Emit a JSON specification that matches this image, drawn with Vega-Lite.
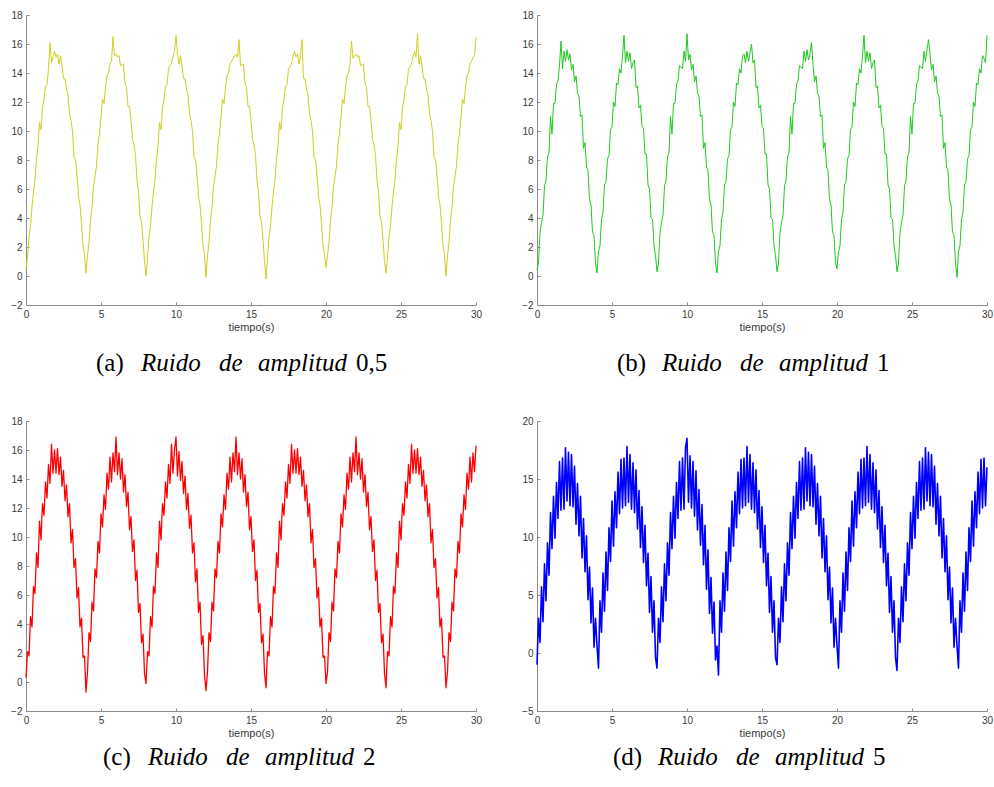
{
"$schema":"https://vega.github.io/schema/vega-lite/v6.json",
"padding":{"left":10,"top":10,"right":0,"bottom":0},
"config":{"view":{"stroke":null},"axis":{"grid":false,"domainColor":"#8c8c8c","tickColor":"#8c8c8c","tickSize":-3,"labelPadding":7,"labelFont":"Liberation Sans","labelFontSize":10,"labelColor":"#3a3a3a","titleFont":"Liberation Sans","titleFontSize":11,"titleFontWeight":"normal","titleColor":"#3a3a3a","titlePadding":2,"labelFlush":false}},
"datasets":{"s":[
{"t":0,"a":0.5,"b":0.4,"c":0.3,"d":-1.0},{"t":0.1,"a":1.3,"b":0.9,"c":2.1,"d":3.0},{"t":0.2,"a":2.7,"b":3.0,"c":1.8,"d":0.9},{"t":0.3,"a":3.4,"b":3.7,"c":4.5,"d":5.7},{"t":0.4,"a":4.8,"b":4.2,"c":3.8,"d":2.7},{"t":0.5,"a":5.8,"b":6.2,"c":6.6,"d":7.7},{"t":0.6,"a":6.6,"b":6.6,"c":6.1,"d":4.5},{"t":0.7,"a":8.1,"b":8.2,"c":8.9,"d":9.5},{"t":0.8,"a":8.9,"b":8.5,"c":7.9,"d":6.7},{"t":0.9,"a":10.6,"b":11.0,"c":11.1,"d":12.1},
{"t":1.0,"a":10.1,"b":9.8,"c":9.8,"d":9.0},{"t":1.1,"a":11.6,"b":11.9,"c":12.3,"d":13.5},{"t":1.2,"a":12.2,"b":11.9,"c":11.5,"d":9.9},{"t":1.3,"a":13.1,"b":13.2,"c":13.8,"d":14.7},{"t":1.4,"a":13.2,"b":13.5,"c":12.7,"d":11.6},{"t":1.5,"a":14.3,"b":14.5,"c":15.0,"d":16.5},{"t":1.6,"a":16.1,"b":16.2,"c":13.7,"d":12.3},{"t":1.7,"a":14.7,"b":14.3,"c":16.4,"d":16.8},{"t":1.8,"a":15.1,"b":15.5,"c":14.4,"d":12.4},{"t":1.9,"a":15.5,"b":14.8,"c":16.0,"d":17.7},
{"t":2.0,"a":15.1,"b":15.6,"c":14.4,"d":13.1},{"t":2.1,"a":15.3,"b":14.9,"c":16.1,"d":17.3},{"t":2.2,"a":14.6,"b":15.3,"c":14.3,"d":12.7},{"t":2.3,"a":15.2,"b":14.2,"c":15.5,"d":17.1},{"t":2.4,"a":14.5,"b":14.6,"c":13.5,"d":12.6},{"t":2.5,"a":13.6,"b":13.4,"c":14.6,"d":16.1},{"t":2.6,"a":13.6,"b":13.8,"c":12.5,"d":11.1},{"t":2.7,"a":12.9,"b":12.6,"c":13.6,"d":14.6},{"t":2.8,"a":12.5,"b":12.4,"c":11.4,"d":10.1},{"t":2.9,"a":11.2,"b":11.0,"c":12.3,"d":13.5},
{"t":3.0,"a":10.7,"b":11.1,"c":9.6,"d":8.2},{"t":3.1,"a":10.0,"b":8.8,"c":10.5,"d":11.6},{"t":3.2,"a":8.2,"b":9.2,"c":7.9,"d":7.0},{"t":3.3,"a":8.0,"b":7.5,"c":8.5,"d":10.1},{"t":3.4,"a":6.9,"b":7.3,"c":5.8,"d":4.6},{"t":3.5,"a":5.5,"b":5.3,"c":6.5,"d":7.4},{"t":3.6,"a":4.9,"b":4.9,"c":3.8,"d":2.6},{"t":3.7,"a":3.6,"b":3.0,"c":4.4,"d":5.6},{"t":3.8,"a":2.1,"b":2.8,"c":1.7,"d":0.5},{"t":3.9,"a":1.4,"b":0.9,"c":1.8,"d":3.0},
{"t":4.0,"a":0.2,"b":0.2,"c":-0.7,"d":0.6},{"t":4.1,"a":1.4,"b":1.7,"c":0.7,"d":-1.3},{"t":4.2,"a":2.3,"b":2.1,"c":3.4,"d":4.5},{"t":4.3,"a":3.8,"b":3.9,"c":2.8,"d":1.8},{"t":4.4,"a":4.7,"b":4.4,"c":5.5,"d":6.9},{"t":4.5,"a":6.2,"b":6.3,"c":4.9,"d":3.6},{"t":4.6,"a":6.9,"b":6.5,"c":7.8,"d":8.7},{"t":4.7,"a":7.6,"b":8.1,"c":7.2,"d":5.4},{"t":4.8,"a":9.1,"b":8.3,"c":9.7,"d":10.8},{"t":4.9,"a":9.8,"b":10.1,"c":8.9,"d":7.9},
{"t":5.0,"a":10.9,"b":10.3,"c":11.6,"d":13.1},{"t":5.1,"a":12.2,"b":12.0,"c":10.7,"d":9.2},{"t":5.2,"a":11.9,"b":11.7,"c":12.9,"d":13.9},{"t":5.3,"a":13.0,"b":13.3,"c":11.9,"d":10.8},{"t":5.4,"a":13.8,"b":13.2,"c":14.4,"d":15.6},{"t":5.5,"a":14.0,"b":14.3,"c":13.3,"d":12.0},{"t":5.6,"a":14.6,"b":14.0,"c":15.5,"d":16.7},{"t":5.7,"a":14.8,"b":15.2,"c":13.8,"d":12.5},{"t":5.8,"a":16.5,"b":16.6,"c":15.8,"d":16.8},{"t":5.9,"a":15.2,"b":14.7,"c":14.5,"d":12.7},
{"t":6.0,"a":15.3,"b":15.5,"c":16.9,"d":17.8},{"t":6.1,"a":15.1,"b":14.8,"c":14.3,"d":13.0},{"t":6.2,"a":15.2,"b":15.4,"c":15.8,"d":17.1},{"t":6.3,"a":14.5,"b":14.3,"c":14.0,"d":12.4},{"t":6.4,"a":14.6,"b":14.7,"c":15.4,"d":16.4},{"t":6.5,"a":14.6,"b":14.9,"c":13.1,"d":12.1},{"t":6.6,"a":13.3,"b":13.0,"c":14.3,"d":15.8},{"t":6.7,"a":13.0,"b":13.1,"c":12.1,"d":10.7},{"t":6.8,"a":11.7,"b":11.6,"c":13.1,"d":14.0},{"t":6.9,"a":11.7,"b":11.8,"c":10.5,"d":9.1},
{"t":7.0,"a":10.7,"b":10.3,"c":11.4,"d":12.6},{"t":7.1,"a":9.4,"b":10.2,"c":9.0,"d":7.8},{"t":7.2,"a":9.0,"b":8.4,"c":9.8,"d":11.0},{"t":7.3,"a":8.3,"b":8.4,"c":7.0,"d":5.8},{"t":7.4,"a":6.6,"b":6.3,"c":7.7,"d":8.6},{"t":7.5,"a":5.8,"b":6.0,"c":4.8,"d":3.5},{"t":7.6,"a":4.1,"b":4.0,"c":5.4,"d":6.6},{"t":7.7,"a":3.7,"b":3.9,"c":2.7,"d":1.8},{"t":7.8,"a":2.5,"b":2.1,"c":3.3,"d":4.5},{"t":7.9,"a":1.0,"b":1.4,"c":0.6,"d":-0.4},
{"t":8.0,"a":0.0,"b":0.3,"c":-0.1,"d":-1.3},{"t":8.1,"a":1.3,"b":0.9,"c":2.1,"d":3.0},{"t":8.2,"a":2.7,"b":3.0,"c":1.8,"d":0.9},{"t":8.3,"a":3.4,"b":3.7,"c":4.5,"d":5.7},{"t":8.4,"a":4.8,"b":4.2,"c":3.8,"d":2.7},{"t":8.5,"a":5.8,"b":6.2,"c":6.6,"d":7.7},{"t":8.6,"a":6.6,"b":6.6,"c":6.1,"d":4.5},{"t":8.7,"a":8.1,"b":8.2,"c":8.9,"d":9.5},{"t":8.8,"a":8.9,"b":8.5,"c":7.9,"d":6.7},{"t":8.9,"a":10.6,"b":11.0,"c":11.1,"d":12.1},
{"t":9.0,"a":10.1,"b":9.8,"c":9.8,"d":9.0},{"t":9.1,"a":11.6,"b":11.9,"c":12.3,"d":13.5},{"t":9.2,"a":12.2,"b":11.9,"c":11.5,"d":9.9},{"t":9.3,"a":13.1,"b":13.2,"c":13.8,"d":14.7},{"t":9.4,"a":13.2,"b":13.5,"c":12.7,"d":11.6},{"t":9.5,"a":14.3,"b":14.5,"c":15.0,"d":16.5},{"t":9.6,"a":14.5,"b":14.4,"c":13.7,"d":12.3},{"t":9.7,"a":14.7,"b":14.3,"c":16.4,"d":16.8},{"t":9.8,"a":15.1,"b":15.5,"c":14.4,"d":12.4},{"t":9.9,"a":15.5,"b":14.8,"c":16.0,"d":17.7},
{"t":10.0,"a":16.6,"b":16.7,"c":16.9,"d":18.5},{"t":10.1,"a":15.3,"b":14.9,"c":14.2,"d":13.0},{"t":10.2,"a":14.6,"b":15.3,"c":15.9,"d":17.0},{"t":10.3,"a":15.2,"b":14.2,"c":13.9,"d":12.5},{"t":10.4,"a":14.5,"b":14.6,"c":15.2,"d":16.5},{"t":10.5,"a":13.6,"b":13.4,"c":13.0,"d":11.8},{"t":10.6,"a":13.6,"b":13.8,"c":14.2,"d":15.7},{"t":10.7,"a":12.9,"b":12.6,"c":11.9,"d":10.6},{"t":10.8,"a":12.5,"b":12.4,"c":13.0,"d":14.1},{"t":10.9,"a":11.2,"b":11.0,"c":10.6,"d":9.3},
{"t":11.0,"a":10.7,"b":11.1,"c":11.5,"d":12.8},{"t":11.1,"a":10.0,"b":8.8,"c":8.9,"d":7.6},{"t":11.2,"a":8.2,"b":9.2,"c":9.6,"d":11.0},{"t":11.3,"a":8.0,"b":7.5,"c":6.9,"d":5.5},{"t":11.4,"a":6.9,"b":7.3,"c":7.8,"d":8.9},{"t":11.5,"a":5.5,"b":5.3,"c":4.8,"d":3.4},{"t":11.6,"a":4.9,"b":4.9,"c":5.5,"d":6.5},{"t":11.7,"a":3.6,"b":3.0,"c":2.6,"d":1.7},{"t":11.8,"a":2.1,"b":2.8,"c":3.2,"d":4.4},{"t":11.9,"a":1.4,"b":0.9,"c":0.5,"d":-0.6},
{"t":12.0,"a":-0.1,"b":0.2,"c":-0.6,"d":0.6},{"t":12.1,"a":1.4,"b":1.7,"c":0.7,"d":-1.9},{"t":12.2,"a":2.3,"b":2.1,"c":3.4,"d":4.5},{"t":12.3,"a":3.8,"b":3.9,"c":2.8,"d":1.8},{"t":12.4,"a":4.7,"b":4.4,"c":5.5,"d":6.9},{"t":12.5,"a":6.2,"b":6.3,"c":4.9,"d":3.6},{"t":12.6,"a":6.9,"b":6.5,"c":7.8,"d":8.7},{"t":12.7,"a":7.6,"b":8.1,"c":7.2,"d":5.4},{"t":12.8,"a":9.1,"b":8.3,"c":9.7,"d":10.8},{"t":12.9,"a":9.8,"b":10.1,"c":8.9,"d":7.9},
{"t":13.0,"a":10.9,"b":10.3,"c":11.6,"d":13.1},{"t":13.1,"a":12.2,"b":12.0,"c":10.7,"d":9.2},{"t":13.2,"a":11.9,"b":11.7,"c":12.9,"d":13.9},{"t":13.3,"a":13.0,"b":13.3,"c":11.9,"d":10.8},{"t":13.4,"a":13.8,"b":13.2,"c":14.4,"d":15.6},{"t":13.5,"a":14.0,"b":14.3,"c":13.3,"d":12.0},{"t":13.6,"a":14.6,"b":14.0,"c":15.5,"d":16.7},{"t":13.7,"a":14.8,"b":15.2,"c":13.8,"d":12.5},{"t":13.8,"a":15.0,"b":15.3,"c":15.8,"d":16.8},{"t":13.9,"a":15.2,"b":14.7,"c":14.5,"d":12.7},
{"t":14.0,"a":15.3,"b":15.5,"c":16.9,"d":17.8},{"t":14.1,"a":15.1,"b":14.8,"c":14.3,"d":13.0},{"t":14.2,"a":16.3,"b":15.4,"c":15.8,"d":17.1},{"t":14.3,"a":14.5,"b":16.0,"c":14.0,"d":12.4},{"t":14.4,"a":14.6,"b":14.7,"c":15.4,"d":16.4},{"t":14.5,"a":14.6,"b":14.9,"c":13.1,"d":12.1},{"t":14.6,"a":13.3,"b":13.0,"c":14.3,"d":15.8},{"t":14.7,"a":13.0,"b":13.1,"c":12.1,"d":10.7},{"t":14.8,"a":11.7,"b":11.6,"c":13.1,"d":14.0},{"t":14.9,"a":11.7,"b":11.8,"c":10.5,"d":9.1},
{"t":15.0,"a":10.7,"b":10.3,"c":11.4,"d":12.6},{"t":15.1,"a":9.4,"b":10.2,"c":9.0,"d":7.8},{"t":15.2,"a":9.0,"b":8.4,"c":9.8,"d":11.0},{"t":15.3,"a":8.3,"b":8.4,"c":7.0,"d":5.8},{"t":15.4,"a":6.6,"b":6.3,"c":7.7,"d":8.6},{"t":15.5,"a":5.8,"b":6.0,"c":4.8,"d":3.5},{"t":15.6,"a":4.1,"b":4.0,"c":5.4,"d":6.6},{"t":15.7,"a":3.7,"b":3.9,"c":2.7,"d":1.8},{"t":15.8,"a":2.5,"b":2.1,"c":3.3,"d":4.5},{"t":15.9,"a":1.0,"b":1.4,"c":0.6,"d":-0.4},
{"t":16.0,"a":-0.2,"b":0.3,"c":-0.4,"d":-1.0},{"t":16.1,"a":1.3,"b":0.9,"c":2.1,"d":3.0},{"t":16.2,"a":2.7,"b":3.0,"c":1.8,"d":0.9},{"t":16.3,"a":3.4,"b":3.7,"c":4.5,"d":5.7},{"t":16.4,"a":4.8,"b":4.2,"c":3.8,"d":2.7},{"t":16.5,"a":5.8,"b":6.2,"c":6.6,"d":7.7},{"t":16.6,"a":6.6,"b":6.6,"c":6.1,"d":4.5},{"t":16.7,"a":8.1,"b":8.2,"c":8.9,"d":9.5},{"t":16.8,"a":8.9,"b":8.5,"c":7.9,"d":6.7},{"t":16.9,"a":10.6,"b":11.0,"c":11.1,"d":12.1},
{"t":17.0,"a":10.1,"b":9.8,"c":9.8,"d":9.0},{"t":17.1,"a":11.6,"b":11.9,"c":12.3,"d":13.5},{"t":17.2,"a":12.2,"b":11.9,"c":11.5,"d":9.9},{"t":17.3,"a":13.1,"b":13.2,"c":13.8,"d":14.7},{"t":17.4,"a":13.2,"b":13.5,"c":12.7,"d":11.6},{"t":17.5,"a":14.3,"b":14.5,"c":15.0,"d":16.5},{"t":17.6,"a":14.4,"b":14.4,"c":13.7,"d":12.3},{"t":17.7,"a":14.7,"b":14.3,"c":16.4,"d":16.8},{"t":17.8,"a":15.1,"b":15.5,"c":14.4,"d":12.4},{"t":17.9,"a":15.5,"b":14.8,"c":16.0,"d":17.7},
{"t":18.0,"a":15.1,"b":15.6,"c":14.4,"d":13.1},{"t":18.1,"a":15.3,"b":14.9,"c":16.1,"d":17.3},{"t":18.2,"a":14.6,"b":15.3,"c":14.3,"d":12.7},{"t":18.3,"a":15.2,"b":16.1,"c":15.5,"d":17.1},{"t":18.4,"a":16.3,"b":14.6,"c":13.5,"d":12.6},{"t":18.5,"a":13.6,"b":13.4,"c":14.6,"d":16.1},{"t":18.6,"a":13.6,"b":13.8,"c":12.5,"d":11.1},{"t":18.7,"a":12.9,"b":12.6,"c":13.6,"d":14.6},{"t":18.8,"a":12.5,"b":12.4,"c":11.4,"d":10.1},{"t":18.9,"a":11.2,"b":11.0,"c":12.3,"d":13.5},
{"t":19.0,"a":10.7,"b":11.1,"c":9.6,"d":8.2},{"t":19.1,"a":10.0,"b":8.8,"c":10.5,"d":11.6},{"t":19.2,"a":8.2,"b":9.2,"c":7.9,"d":7.0},{"t":19.3,"a":8.0,"b":7.5,"c":8.5,"d":10.1},{"t":19.4,"a":6.9,"b":7.3,"c":5.8,"d":4.6},{"t":19.5,"a":5.5,"b":5.3,"c":6.5,"d":7.4},{"t":19.6,"a":4.9,"b":4.9,"c":3.8,"d":2.6},{"t":19.7,"a":3.6,"b":3.0,"c":4.4,"d":5.6},{"t":19.8,"a":2.1,"b":2.8,"c":1.7,"d":0.5},{"t":19.9,"a":1.4,"b":0.9,"c":1.8,"d":3.0},
{"t":20.0,"a":0.6,"b":0.5,"c":-0.1,"d":0.6},{"t":20.1,"a":1.4,"b":1.7,"c":0.7,"d":-1.3},{"t":20.2,"a":2.3,"b":2.1,"c":3.4,"d":4.5},{"t":20.3,"a":3.8,"b":3.9,"c":2.8,"d":1.8},{"t":20.4,"a":4.7,"b":4.4,"c":5.5,"d":6.9},{"t":20.5,"a":6.2,"b":6.3,"c":4.9,"d":3.6},{"t":20.6,"a":6.9,"b":6.5,"c":7.8,"d":8.7},{"t":20.7,"a":7.6,"b":8.1,"c":7.2,"d":5.4},{"t":20.8,"a":9.1,"b":8.3,"c":9.7,"d":10.8},{"t":20.9,"a":9.8,"b":10.1,"c":8.9,"d":7.9},
{"t":21.0,"a":10.9,"b":10.3,"c":11.6,"d":13.1},{"t":21.1,"a":12.2,"b":12.0,"c":10.7,"d":9.2},{"t":21.2,"a":11.9,"b":11.7,"c":12.9,"d":13.9},{"t":21.3,"a":13.0,"b":13.3,"c":11.9,"d":10.8},{"t":21.4,"a":13.8,"b":13.2,"c":14.4,"d":15.6},{"t":21.5,"a":14.0,"b":14.3,"c":13.3,"d":12.0},{"t":21.6,"a":14.6,"b":14.0,"c":15.5,"d":16.7},{"t":21.7,"a":16.2,"b":15.2,"c":13.8,"d":12.5},{"t":21.8,"a":15.0,"b":16.6,"c":15.8,"d":16.8},{"t":21.9,"a":15.2,"b":14.7,"c":14.5,"d":12.7},
{"t":22.0,"a":15.3,"b":15.5,"c":16.9,"d":17.8},{"t":22.1,"a":15.1,"b":14.8,"c":14.3,"d":13.0},{"t":22.2,"a":15.2,"b":15.4,"c":15.8,"d":17.1},{"t":22.3,"a":14.5,"b":14.3,"c":14.0,"d":12.4},{"t":22.4,"a":14.6,"b":14.7,"c":15.4,"d":16.4},{"t":22.5,"a":14.6,"b":14.9,"c":13.1,"d":12.1},{"t":22.6,"a":13.3,"b":13.0,"c":14.3,"d":15.8},{"t":22.7,"a":13.0,"b":13.1,"c":12.1,"d":10.7},{"t":22.8,"a":11.7,"b":11.6,"c":13.1,"d":14.0},{"t":22.9,"a":11.7,"b":11.8,"c":10.5,"d":9.1},
{"t":23.0,"a":10.7,"b":10.3,"c":11.4,"d":12.6},{"t":23.1,"a":9.4,"b":10.2,"c":9.0,"d":7.8},{"t":23.2,"a":9.0,"b":8.4,"c":9.8,"d":11.0},{"t":23.3,"a":8.3,"b":8.4,"c":7.0,"d":5.8},{"t":23.4,"a":6.6,"b":6.3,"c":7.7,"d":8.6},{"t":23.5,"a":5.8,"b":6.0,"c":4.8,"d":3.5},{"t":23.6,"a":4.1,"b":4.0,"c":5.4,"d":6.6},{"t":23.7,"a":3.7,"b":3.9,"c":2.7,"d":1.8},{"t":23.8,"a":2.5,"b":2.1,"c":3.3,"d":4.5},{"t":23.9,"a":1.0,"b":1.4,"c":0.6,"d":-0.4},
{"t":24.0,"a":0.2,"b":0.3,"c":-0.4,"d":-1.5},{"t":24.1,"a":1.3,"b":0.9,"c":2.1,"d":3.0},{"t":24.2,"a":2.7,"b":3.0,"c":1.8,"d":0.9},{"t":24.3,"a":3.4,"b":3.7,"c":4.5,"d":5.7},{"t":24.4,"a":4.8,"b":4.2,"c":3.8,"d":2.7},{"t":24.5,"a":5.8,"b":6.2,"c":6.6,"d":7.7},{"t":24.6,"a":6.6,"b":6.6,"c":6.1,"d":4.5},{"t":24.7,"a":8.1,"b":8.2,"c":8.9,"d":9.5},{"t":24.8,"a":8.9,"b":8.5,"c":7.9,"d":6.7},{"t":24.9,"a":10.6,"b":11.0,"c":11.1,"d":12.1},
{"t":25.0,"a":10.1,"b":9.8,"c":9.8,"d":9.0},{"t":25.1,"a":11.6,"b":11.9,"c":12.3,"d":13.5},{"t":25.2,"a":12.2,"b":11.9,"c":11.5,"d":9.9},{"t":25.3,"a":13.1,"b":13.2,"c":13.8,"d":14.7},{"t":25.4,"a":13.2,"b":13.5,"c":12.7,"d":11.6},{"t":25.5,"a":14.3,"b":14.5,"c":15.0,"d":16.5},{"t":25.6,"a":14.4,"b":14.4,"c":13.7,"d":12.3},{"t":25.7,"a":14.7,"b":14.3,"c":16.4,"d":16.8},{"t":25.8,"a":15.1,"b":15.5,"c":14.4,"d":12.4},{"t":25.9,"a":15.5,"b":14.8,"c":16.0,"d":17.7},
{"t":26.0,"a":15.1,"b":15.6,"c":14.4,"d":13.1},{"t":26.1,"a":16.7,"b":16.3,"c":16.1,"d":17.3},{"t":26.2,"a":14.6,"b":15.3,"c":14.3,"d":12.7},{"t":26.3,"a":15.2,"b":14.2,"c":15.5,"d":17.1},{"t":26.4,"a":14.5,"b":14.6,"c":13.5,"d":12.6},{"t":26.5,"a":13.6,"b":13.4,"c":14.6,"d":16.1},{"t":26.6,"a":13.6,"b":13.8,"c":12.5,"d":11.1},{"t":26.7,"a":12.9,"b":12.6,"c":13.6,"d":14.6},{"t":26.8,"a":12.5,"b":12.4,"c":11.4,"d":10.1},{"t":26.9,"a":11.2,"b":11.0,"c":12.3,"d":13.5},
{"t":27.0,"a":10.7,"b":11.1,"c":9.6,"d":8.2},{"t":27.1,"a":10.0,"b":8.8,"c":10.5,"d":11.6},{"t":27.2,"a":8.2,"b":9.2,"c":7.9,"d":7.0},{"t":27.3,"a":8.0,"b":7.5,"c":8.5,"d":10.1},{"t":27.4,"a":6.9,"b":7.3,"c":5.8,"d":4.6},{"t":27.5,"a":5.5,"b":5.3,"c":6.5,"d":7.4},{"t":27.6,"a":4.9,"b":4.9,"c":3.8,"d":2.6},{"t":27.7,"a":3.6,"b":3.0,"c":4.4,"d":5.6},{"t":27.8,"a":2.1,"b":2.8,"c":1.7,"d":0.5},{"t":27.9,"a":1.4,"b":0.9,"c":1.8,"d":3.0},
{"t":28.0,"a":0.0,"b":-0.1,"c":-0.4,"d":0.6},{"t":28.1,"a":1.4,"b":1.7,"c":0.7,"d":-1.3},{"t":28.2,"a":2.3,"b":2.1,"c":3.4,"d":4.5},{"t":28.3,"a":3.8,"b":3.9,"c":2.8,"d":1.8},{"t":28.4,"a":4.7,"b":4.4,"c":5.5,"d":6.9},{"t":28.5,"a":6.2,"b":6.3,"c":4.9,"d":3.6},{"t":28.6,"a":6.9,"b":6.5,"c":7.8,"d":8.7},{"t":28.7,"a":7.6,"b":8.1,"c":7.2,"d":5.4},{"t":28.8,"a":9.1,"b":8.3,"c":9.7,"d":10.8},{"t":28.9,"a":9.8,"b":10.1,"c":8.9,"d":7.9},
{"t":29.0,"a":10.9,"b":10.3,"c":11.6,"d":13.1},{"t":29.1,"a":12.2,"b":12.0,"c":10.7,"d":9.2},{"t":29.2,"a":11.9,"b":11.7,"c":12.9,"d":13.9},{"t":29.3,"a":13.0,"b":13.3,"c":11.9,"d":10.8},{"t":29.4,"a":13.8,"b":13.2,"c":14.4,"d":15.6},{"t":29.5,"a":14.0,"b":14.3,"c":13.3,"d":12.0},{"t":29.6,"a":14.6,"b":14.0,"c":15.5,"d":16.7},{"t":29.7,"a":14.8,"b":15.2,"c":13.8,"d":12.5},{"t":29.8,"a":15.1,"b":15.0,"c":15.8,"d":16.8},{"t":29.9,"a":15.2,"b":14.7,"c":14.5,"d":12.7},
{"t":30.0,"a":16.5,"b":16.6,"c":16.3,"d":16.0}
]},
"concat":[
{"width":450,"height":290,"data":{"name":"s"},"mark":{"type":"line","color":"#cfcf1f","strokeWidth":1,"strokeJoin":"round"},
"encoding":{"x":{"field":"t","type":"quantitative","scale":{"domain":[0,30],"nice":false},"axis":{"values":[0,5,10,15,20,25,30],"title":"tiempo(s)"}},
"y":{"field":"a","type":"quantitative","scale":{"domain":[-2,18],"nice":false},"axis":{"values":[-2,0,2,4,6,8,10,12,14,16,18],"title":null}}}},
{"width":450,"height":290,"data":{"name":"s"},"mark":{"type":"line","color":"#1ec81e","strokeWidth":1,"strokeJoin":"round"},
"encoding":{"x":{"field":"t","type":"quantitative","scale":{"domain":[0,30],"nice":false},"axis":{"values":[0,5,10,15,20,25,30],"title":"tiempo(s)"}},
"y":{"field":"b","type":"quantitative","scale":{"domain":[-2,18],"nice":false},"axis":{"values":[-2,0,2,4,6,8,10,12,14,16,18],"title":null}}}},
{"width":450,"height":58,"data":{"values":[{"p":"(a)","w1":"Ruido","w2":"de","w3":"amplitud","n":"0,5"}]},
"layer":[
{"mark":{"type":"text","align":"left","baseline":"middle","dx":-155,"font":"Liberation Serif","fontSize":25,"color":"#000"},"encoding":{"text":{"field":"p"}}},
{"mark":{"type":"text","align":"left","baseline":"middle","dx":-110,"font":"Liberation Serif","fontSize":25,"fontStyle":"italic","color":"#000"},"encoding":{"text":{"field":"w1"}}},
{"mark":{"type":"text","align":"left","baseline":"middle","dx":-32,"font":"Liberation Serif","fontSize":25,"fontStyle":"italic","color":"#000"},"encoding":{"text":{"field":"w2"}}},
{"mark":{"type":"text","align":"left","baseline":"middle","dx":7,"font":"Liberation Serif","fontSize":25,"fontStyle":"italic","color":"#000"},"encoding":{"text":{"field":"w3"}}},
{"mark":{"type":"text","align":"left","baseline":"middle","dx":105,"font":"Liberation Serif","fontSize":25,"color":"#000"},"encoding":{"text":{"field":"n"}}}
]},
{"width":450,"height":58,"data":{"values":[{"p":"(b)","w1":"Ruido","w2":"de","w3":"amplitud","n":"1"}]},
"layer":[
{"mark":{"type":"text","align":"left","baseline":"middle","dx":-145,"font":"Liberation Serif","fontSize":25,"color":"#000"},"encoding":{"text":{"field":"p"}}},
{"mark":{"type":"text","align":"left","baseline":"middle","dx":-100,"font":"Liberation Serif","fontSize":25,"fontStyle":"italic","color":"#000"},"encoding":{"text":{"field":"w1"}}},
{"mark":{"type":"text","align":"left","baseline":"middle","dx":-22,"font":"Liberation Serif","fontSize":25,"fontStyle":"italic","color":"#000"},"encoding":{"text":{"field":"w2"}}},
{"mark":{"type":"text","align":"left","baseline":"middle","dx":17,"font":"Liberation Serif","fontSize":25,"fontStyle":"italic","color":"#000"},"encoding":{"text":{"field":"w3"}}},
{"mark":{"type":"text","align":"left","baseline":"middle","dx":115,"font":"Liberation Serif","fontSize":25,"color":"#000"},"encoding":{"text":{"field":"n"}}}
]},
{"width":450,"height":290,"data":{"name":"s"},"mark":{"type":"line","color":"#ff0000","strokeWidth":1.3,"strokeJoin":"round"},
"encoding":{"x":{"field":"t","type":"quantitative","scale":{"domain":[0,30],"nice":false},"axis":{"values":[0,5,10,15,20,25,30],"title":"tiempo(s)"}},
"y":{"field":"c","type":"quantitative","scale":{"domain":[-2,18],"nice":false},"axis":{"values":[-2,0,2,4,6,8,10,12,14,16,18],"title":null}}}},
{"width":450,"height":290,"data":{"name":"s"},"mark":{"type":"line","color":"#0000ff","strokeWidth":1.6,"strokeJoin":"round"},
"encoding":{"x":{"field":"t","type":"quantitative","scale":{"domain":[0,30],"nice":false},"axis":{"values":[0,5,10,15,20,25,30],"title":"tiempo(s)"}},
"y":{"field":"d","type":"quantitative","scale":{"domain":[-5,20],"nice":false},"axis":{"values":[-5,0,5,10,15,20],"title":null}}}},
{"width":450,"height":34,"data":{"values":[{"p":"(c)","w1":"Ruido","w2":"de","w3":"amplitud","n":"2"}]},
"layer":[
{"mark":{"type":"text","align":"left","baseline":"middle","dx":-148,"font":"Liberation Serif","fontSize":25,"color":"#000"},"encoding":{"text":{"field":"p"}}},
{"mark":{"type":"text","align":"left","baseline":"middle","dx":-103,"font":"Liberation Serif","fontSize":25,"fontStyle":"italic","color":"#000"},"encoding":{"text":{"field":"w1"}}},
{"mark":{"type":"text","align":"left","baseline":"middle","dx":-25,"font":"Liberation Serif","fontSize":25,"fontStyle":"italic","color":"#000"},"encoding":{"text":{"field":"w2"}}},
{"mark":{"type":"text","align":"left","baseline":"middle","dx":14,"font":"Liberation Serif","fontSize":25,"fontStyle":"italic","color":"#000"},"encoding":{"text":{"field":"w3"}}},
{"mark":{"type":"text","align":"left","baseline":"middle","dx":112,"font":"Liberation Serif","fontSize":25,"color":"#000"},"encoding":{"text":{"field":"n"}}}
]},
{"width":450,"height":34,"data":{"values":[{"p":"(d)","w1":"Ruido","w2":"de","w3":"amplitud","n":"5"}]},
"layer":[
{"mark":{"type":"text","align":"left","baseline":"middle","dx":-149,"font":"Liberation Serif","fontSize":25,"color":"#000"},"encoding":{"text":{"field":"p"}}},
{"mark":{"type":"text","align":"left","baseline":"middle","dx":-104,"font":"Liberation Serif","fontSize":25,"fontStyle":"italic","color":"#000"},"encoding":{"text":{"field":"w1"}}},
{"mark":{"type":"text","align":"left","baseline":"middle","dx":-26,"font":"Liberation Serif","fontSize":25,"fontStyle":"italic","color":"#000"},"encoding":{"text":{"field":"w2"}}},
{"mark":{"type":"text","align":"left","baseline":"middle","dx":13,"font":"Liberation Serif","fontSize":25,"fontStyle":"italic","color":"#000"},"encoding":{"text":{"field":"w3"}}},
{"mark":{"type":"text","align":"left","baseline":"middle","dx":111,"font":"Liberation Serif","fontSize":25,"color":"#000"},"encoding":{"text":{"field":"n"}}}
]}
],
"columns":2,
"spacing":{"row":29,"column":61},
"bounds":"flush",
"align":"each"
}
